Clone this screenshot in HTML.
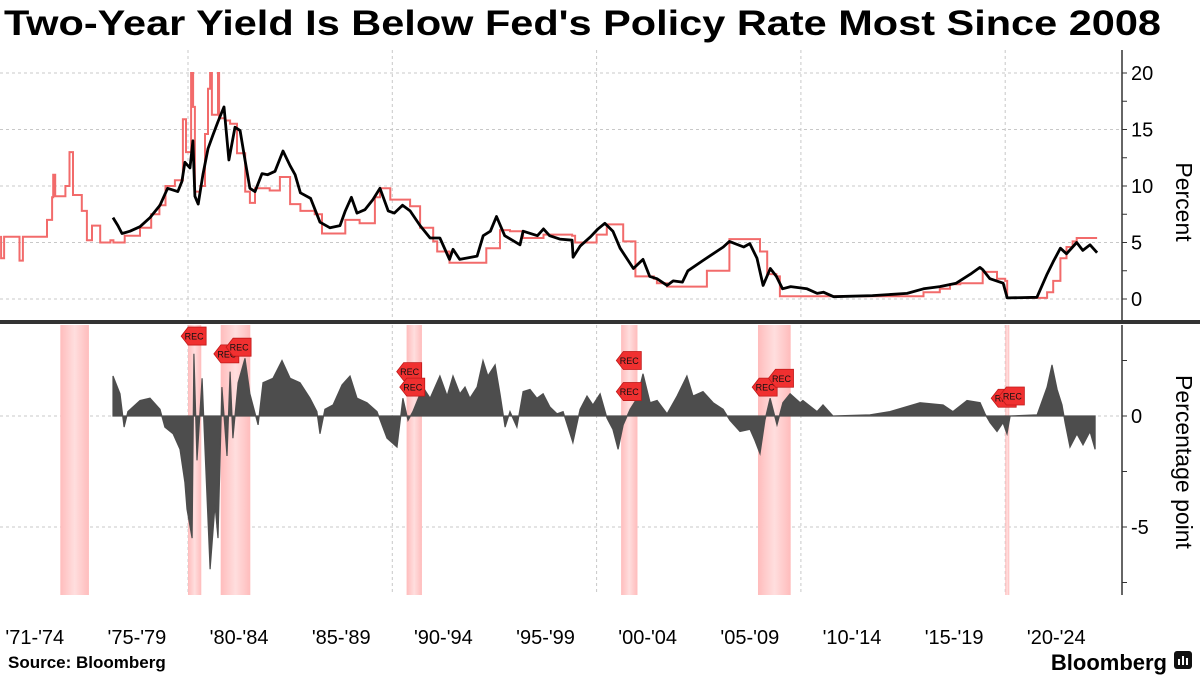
<!DOCTYPE html>
<html><head><meta charset="utf-8"><style>
html,body{margin:0;padding:0;background:#fff;}
svg{display:block;font-family:"Liberation Sans",sans-serif;}
</style></head><body>
<svg id="chart" width="1200" height="675" viewBox="0 0 1200 675" xmlns="http://www.w3.org/2000/svg">
<text x="4" y="35" font-size="35" font-weight="bold" fill="#000" textLength="1157" lengthAdjust="spacingAndGlyphs">Two-Year Yield Is Below Fed's Policy Rate Most Since 2008</text>
<g id="grid"></g>
<g id="rec"></g>
<g id="marks"></g>
<g id="axes"></g>
<rect x="0" y="320" width="1200" height="4" fill="#333"/>
<text transform="translate(1176,202) rotate(90)" text-anchor="middle" font-size="23" fill="#000">Percent</text>
<text transform="translate(1176,462) rotate(90)" text-anchor="middle" font-size="23" fill="#000">Percentage point</text>
<text x="8" y="668" font-size="17" font-weight="bold" fill="#000">Source:  Bloomberg</text>
<text x="1167" y="670" font-size="22" font-weight="bold" text-anchor="end" fill="#000">Bloomberg</text>
<g><rect x="1174" y="651" width="18" height="18" rx="3" fill="#111"/><rect x="1178" y="659" width="2" height="6" fill="#fff"/><rect x="1182" y="656" width="2" height="9" fill="#fff"/><rect x="1186" y="658" width="2" height="7" fill="#fff"/></g>
</svg>
<script>
const fedYears=[1970.8,1970.85,1971.0,1971.75,1971.92,1972.85,1973.1,1973.35,1973.4,1973.5,1974.0,1974.2,1974.37,1974.8,1975.05,1975.3,1975.7,1976.2,1976.35,1976.9,1977.65,1978.2,1978.6,1978.9,1979.36,1979.75,1979.9,1980.15,1980.25,1980.34,1980.6,1980.83,1980.98,1981.08,1981.17,1981.47,1981.52,1981.81,1982.06,1982.4,1982.8,1983.03,1983.28,1984.0,1984.5,1984.8,1985.0,1985.5,1986.2,1986.56,1986.95,1987.7,1988.4,1989.15,1989.4,1989.9,1990.87,1991.36,1992.0,1992.2,1992.8,1994.2,1994.6,1995.27,1995.76,1996.4,1997.4,1998.8,1998.95,1999.5,2000.0,2000.5,2001.05,2001.3,2001.9,2002.8,2002.95,2003.45,2004.6,2005.4,2006.5,2007.65,2008.0,2008.35,2008.8,2008.97,2015.83,2016.0,2016.8,2017.3,2017.8,2018.9,2019.4,2019.6,2020.0,2020.1,2021.7,2022.05,2022.35,2022.7,2023.0,2023.3,2023.5,2024.5];
const fedValues=[5.5,3.6,5.5,3.4,5.5,5.5,7,9,11,9.1,10,13,9.2,7.8,5.2,6.5,5.0,5.2,5.0,5.6,6.3,7.5,8.3,10,10.5,15.9,13,20,17,9.5,10,14.6,18.6,20,16.3,20,16,15.8,15.5,12.9,9.5,8.5,9.8,9.6,10.8,10.8,8.4,7.8,7.5,5.8,5.8,7.0,6.7,9.0,9.8,8.8,8.2,6.3,5.1,4.2,3.2,3.2,4.5,6.1,6.0,5.4,5.7,5.6,5.0,5.0,5.7,6.6,6.6,5.1,2.0,1.8,1.4,1.1,1.1,2.5,5.3,5.3,4.2,2.2,2.0,0.25,0.25,0.6,0.9,1.3,1.4,2.4,2.4,1.8,1.6,0.1,0.1,0.6,1.6,3.6,4.6,5.1,5.4,5.4];
const yieldYears=[1976.33,1976.57,1976.77,1977.16,1977.65,1978.14,1978.63,1979.0,1979.5,1979.7,1979.85,1980.1,1980.24,1980.34,1980.5,1980.73,1980.98,1981.22,1981.47,1981.76,1982.0,1982.3,1982.55,1982.8,1983.03,1983.28,1983.62,1983.9,1984.26,1984.65,1985.0,1985.24,1985.5,1986.0,1986.46,1986.95,1987.44,1987.7,1988.0,1988.27,1988.66,1989.05,1989.4,1989.8,1990.1,1990.5,1990.87,1991.36,1991.85,1992.33,1992.8,1992.97,1993.3,1994.15,1994.45,1994.8,1995.1,1995.5,1996.25,1996.4,1997.1,1997.4,1997.7,1998.2,1998.8,1998.85,1999.2,1999.7,2000.07,2000.4,2000.8,2001.15,2001.8,2002.27,2002.6,2002.95,2003.45,2003.75,2004.2,2004.47,2005.2,2006.2,2006.5,2007.2,2007.5,2007.85,2008.15,2008.5,2008.8,2009.1,2009.5,2010.3,2010.8,2011.1,2011.6,2013.5,2015.2,2016.0,2016.8,2017.6,2018.3,2018.76,2018.9,2019.25,2019.9,2020.1,2021.55,2022.05,2022.35,2022.7,2023.0,2023.5,2023.8,2024.15,2024.5];
const yieldValues=[7.2,6.5,5.8,6.0,6.4,7.2,8.3,9.8,9.5,10.4,12.1,11.6,14,9.1,8.4,11,13.3,14.5,15.7,17,12.3,15.2,14.9,12.2,9.8,9.5,11.1,11.0,11.3,13.1,11.8,11.0,9.4,8.9,6.8,6.3,6.5,7.8,9.0,7.6,7.9,8.8,9.8,7.8,7.6,8.3,7.8,6.5,5.4,5.4,3.5,4.4,3.5,3.8,5.6,6.0,7.3,5.6,4.8,6.0,5.6,6.2,5.6,5.3,5.2,3.7,4.7,5.5,6.2,6.7,6.0,4.5,2.7,3.5,2.0,1.8,1.2,1.6,1.5,2.5,3.4,4.6,5.1,4.6,4.9,3.6,1.2,2.7,2.0,0.9,1.1,0.9,0.5,0.6,0.2,0.3,0.5,0.9,1.1,1.4,2.2,2.8,2.6,1.8,1.4,0.1,0.15,2.2,3.3,4.5,4.0,5.0,4.3,4.8,4.1];
const spreadYears=[1976.33,1976.67,1976.87,1977.06,1977.65,1978.14,1978.63,1978.87,1979.27,1979.61,1979.85,1979.95,1980.2,1980.29,1980.44,1980.69,1980.83,1981.08,1981.32,1981.47,1981.66,1981.91,1982.06,1982.2,1982.45,1982.79,1983.03,1983.43,1983.67,1984.16,1984.6,1985.0,1985.48,1985.97,1986.31,1986.46,1986.7,1987.1,1987.54,1987.93,1988.27,1988.76,1989.25,1989.74,1990.23,1990.52,1990.77,1991.01,1991.5,1991.85,1992.33,1992.68,1992.97,1993.31,1993.56,1993.8,1994.15,1994.44,1994.68,1995.03,1995.27,1995.52,1995.76,1996.1,1996.4,1996.74,1997.08,1997.38,1997.72,1998.06,1998.36,1998.84,1999.19,1999.53,1999.82,2000.17,2000.51,2000.8,2001.05,2001.3,2001.64,2001.98,2002.27,2002.62,2002.96,2003.45,2003.94,2004.42,2004.72,2005.21,2005.7,2006.19,2006.53,2007.02,2007.51,2007.75,2008.0,2008.24,2008.49,2008.83,2009.12,2009.47,2009.96,2010.1,2010.79,2011.08,2011.57,2013.38,2014.36,2015.83,2016.96,2017.44,2018.13,2018.77,2019.01,2019.26,2019.6,2019.89,2020.09,2020.24,2021.56,2022.05,2022.29,2022.54,2022.78,2022.93,2023.17,2023.51,2023.81,2024.15,2024.4];
const spreadValues=[1.8,1.0,-0.5,0.2,0.7,0.8,0.3,-0.5,-0.8,-1.5,-3.0,-4.2,-5.5,2.8,-2.0,1.7,-1.5,-6.9,-4.0,-5.5,1.3,-1.8,2.0,-1.0,1.5,2.6,1.0,-0.4,1.5,1.7,2.5,1.7,1.5,0.8,0.2,-0.8,0.3,0.5,1.4,1.8,0.8,0.6,0.2,-1.0,-1.4,0.8,-0.2,0.2,1.3,0.8,1.8,0.9,1.8,1.0,1.3,0.8,1.3,2.5,1.8,2.3,1.0,-0.5,0.2,-0.5,1.1,1.2,0.8,1.0,0.4,0.1,0.2,-1.2,0.3,0.9,0.5,1.0,-0.1,-0.6,-1.5,-0.4,0.3,0.8,1.9,0.6,0.7,0.1,0.9,1.8,0.9,1.1,0.6,0.3,-0.2,-0.7,-0.6,-1.1,-1.7,-0.2,0.8,-0.4,0.6,1.0,0.6,0.7,0.2,0.5,0.0,0.05,0.2,0.6,0.5,0.2,0.7,0.6,0.1,-0.3,-0.7,-0.3,-0.8,0.0,0.05,1.3,2.3,1.2,0.5,-0.3,-1.4,-0.8,-1.3,-0.7,-1.5];
const recessionStarts=[1973.75,1980.0,1981.6,1990.7,2001.2,2007.9,2020.0];
const recessionEnds=[1975.15,1980.65,1983.05,1991.45,2002.0,2009.5,2020.2];
const xTickLabels=["'71-'74","'75-'79","'80-'84","'85-'89","'90-'94","'95-'99","'00-'04","'05-'09","'10-'14","'15-'19","'20-'24"];
const xTickYears=[1970,1975,1980,1985,1990,1995,2000,2005,2010,2015,2020];
const topTicks=[0,5,10,15,20];
const bottomTicks=[0,-5];

const NS="http://www.w3.org/2000/svg";
const X=y=>188+(y-1980)*20.43;
const YT=v=>299-v*11.3;
const YB=v=>416-v*22.2;
const AX=1122;
function mk(tag,attrs,parent){const e=document.createElementNS(NS,tag);for(const k in attrs)e.setAttribute(k,attrs[k]);parent.appendChild(e);return e;}
const grid=document.getElementById('grid'),rec=document.getElementById('rec'),marks=document.getElementById('marks'),axes=document.getElementById('axes');

const defs=mk('defs',{},document.getElementById('chart'));
const lg=mk('linearGradient',{id:'recg',x1:'0',x2:'1',y1:'0',y2:'0'},defs);
mk('stop',{offset:'0','stop-color':'#ffbcbc'},lg);mk('stop',{offset:'0.5','stop-color':'#ffdede'},lg);mk('stop',{offset:'1','stop-color':'#ffbcbc'},lg);

topTicks.forEach(v=>{const l=mk('line',{x1:0,x2:AX,y1:YT(v),y2:YT(v),stroke:'#c8c8c8','stroke-dasharray':'3,3','stroke-width':1},grid);

});
bottomTicks.forEach(v=>{const l=mk('line',{x1:0,x2:AX,y1:YB(v),y2:YB(v),stroke:'#c8c8c8','stroke-dasharray':'3,3','stroke-width':1},grid);

});
[1980,1990,2000,2010,2020].forEach(yr=>{
 const a=mk('line',{x1:X(yr),x2:X(yr),y1:50,y2:320,stroke:'#c8c8c8','stroke-dasharray':'3,3'},grid);
 
 
 const b=mk('line',{x1:X(yr),x2:X(yr),y1:325,y2:595,stroke:'#c8c8c8','stroke-dasharray':'3,3'},grid);
 
 
});

recessionStarts.forEach((s,i)=>{
 const r=mk('rect',{x:X(s),y:325,width:Math.max(3,X(recessionEnds[i])-X(s)),height:270,fill:'url(#recg)'},rec);
 
 
});

let d='M'+X(spreadYears[0])+','+YB(0);
spreadYears.forEach((y,i)=>{d+=' L'+X(y).toFixed(1)+','+YB(spreadValues[i]).toFixed(1);});
d+=' L'+X(spreadYears[spreadYears.length-1])+','+YB(0)+' Z';
const area=mk('path',{d:d,fill:'#4d4d4d',stroke:'#4d4d4d','stroke-width':1.2},marks);



let fd='M'+X(fedYears[0])+','+YT(fedValues[0]);
for(let i=1;i<fedYears.length;i++){fd+=' H'+X(fedYears[i]).toFixed(1)+' V'+YT(fedValues[i]).toFixed(1);}
const fed=mk('path',{d:fd,fill:'none',stroke:'#f26b6b','stroke-width':2},marks);



const pts=yieldYears.map((y,i)=>X(y).toFixed(1)+','+YT(yieldValues[i]).toFixed(1)).join(' ');
const yl=mk('polyline',{points:pts,fill:'none',stroke:'#000','stroke-width':2.8,'stroke-linejoin':'round'},marks);



const flagX=[1980.35,1981.95,1982.55,1990.9,1991.05,2001.65,2001.65,2008.3,2009.1,2020.0,2020.4];
const flagV=[3.6,2.8,3.1,2.0,1.3,2.5,1.1,1.3,1.7,0.8,0.9];
flagX.forEach((yr,i)=>{
 const g=mk('g',{},marks);
 
 
 const cx=X(yr),cy=YB(flagV[i]);
 mk('polygon',{points:`${cx-14},${cy} ${cx-7},${cy-9} ${cx+11},${cy-9} ${cx+11},${cy+9} ${cx-7},${cy+9}`,fill:'#f03030',stroke:'#c01818','stroke-width':0.8},g);
 const t=mk('text',{x:cx-1,y:cy+3.5,'font-size':9,'text-anchor':'middle',fill:'#111'},g);t.textContent='REC';
});

const at=mk('line',{x1:AX,x2:AX,y1:50,y2:320,stroke:'#333','stroke-width':1.5},axes);


const ab=mk('line',{x1:AX,x2:AX,y1:325,y2:595,stroke:'#333','stroke-width':1.5},axes);


[0,2.5,5,7.5,10,12.5,15,17.5,20].forEach(v=>mk('line',{x1:AX,x2:AX+5,y1:YT(v),y2:YT(v),stroke:'#333'},axes));
[2.5,0,-2.5,-5,-7.5].forEach(v=>mk('line',{x1:AX,x2:AX+5,y1:YB(v),y2:YB(v),stroke:'#333'},axes));
topTicks.forEach(v=>{const t=mk('text',{x:AX+9,y:YT(v)+7,'font-size':20,fill:'#000'},axes);t.textContent=String(v);

});
bottomTicks.forEach(v=>{const t=mk('text',{x:AX+9,y:YB(v)+7,'font-size':20,fill:'#000'},axes);t.textContent=v<0?'-'+Math.abs(v):String(v);

});
xTickLabels.forEach((lab,i)=>{const t=mk('text',{x:X(xTickYears[i]+2.5),y:644,'font-size':20,'text-anchor':'middle',fill:'#000'},axes);t.textContent=lab;

});
</script>
</body></html>
